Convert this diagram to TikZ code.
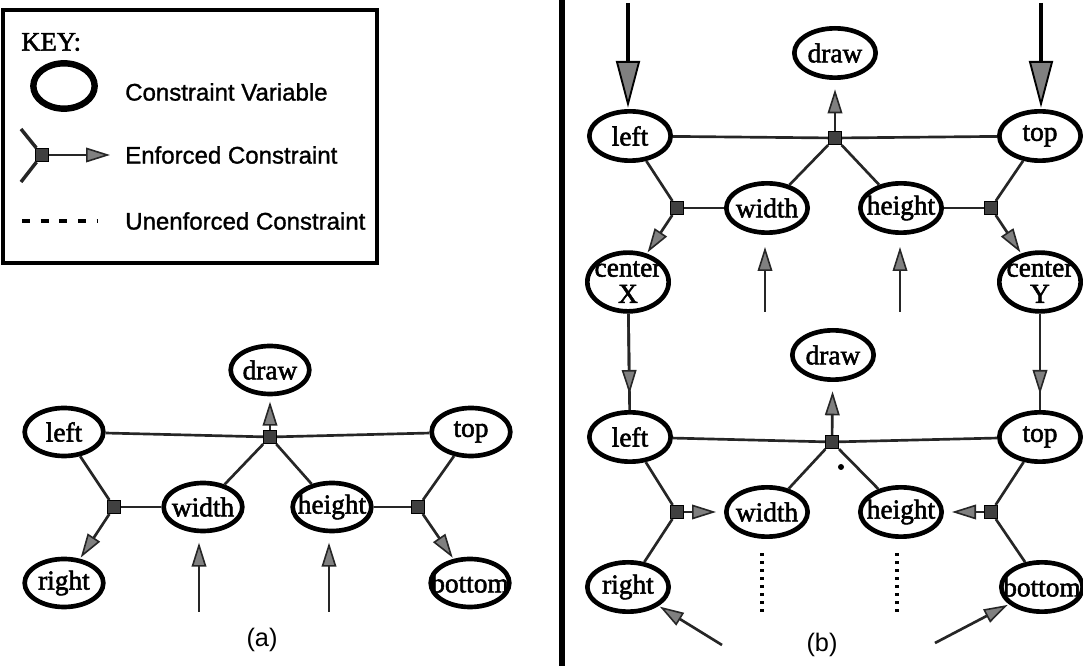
\documentclass[tikz,border=0pt]{standalone}
\usepackage{fontspec}
\setmainfont{Liberation Serif}
\setsansfont{Liberation Sans}
\newfontfamily\nodefont{Liberation Serif}[FakeBold=2]
\newfontfamily\keyfont{Liberation Sans}[FakeBold=1.2]
\usetikzlibrary{shapes.geometric,arrows.meta}
\newcommand\vlab[1]{\makebox[0pt]{#1}}
\tikzset{
 var/.style={draw, ellipse, line width=3.5pt, minimum width=59pt, minimum height=36pt, inner sep=0pt, font=\nodefont\fontsize{20.5}{22}\selectfont},
 bvar/.style={var, minimum width=61pt, minimum height=37pt},
 junc/.style={draw=black, fill=gray!50!black, minimum size=10pt, inner sep=0pt, line width=0.6pt},
 link/.style={line width=2pt, draw=black!85},
 enf/.style={link, -{Triangle[length=18pt,width=11pt,fill=black!50,line width=1.2pt]}},
 bigarr/.style={line width=3.2pt, -{Triangle[length=35pt,width=18pt,fill=black!50,line width=1.4pt]}},
 unenf/.style={line width=2.4pt, dash pattern=on 2pt off 4pt},
 keytext/.style={anchor=west, inner sep=0pt, font=\keyfont\fontsize{18}{20}\selectfont},
 caplab/.style={inner sep=0pt, font=\sffamily\fontsize{19}{20}\selectfont}
}
\begin{document}
\begin{tikzpicture}[x=0.75pt,y=-0.75pt]
\useasboundingbox (0,0) rectangle (1083,666);
% ---------------- key ----------------
\draw[line width=3.2pt] (3,10) rectangle (377,263);
\node[anchor=west, inner sep=0pt, font=\nodefont\fontsize{20}{22}\selectfont] (key) at (21,42) {KEY:};
\node[draw, ellipse, line width=4.8pt, minimum width=46pt, minimum height=34pt, inner sep=0pt] (kvar) at (64,86) {};
\node[keytext] (kvart) at (125,92) {Constraint Variable};
\node[junc] (kj) at (42,155) {};
\coordinate (ky1) at (21,129);
\coordinate (ky2) at (21,182);
\coordinate (kend) at (110,155);
\draw[link, line width=2.6pt] (ky1) -- (kj);
\draw[link, line width=2.6pt] (ky2) -- (kj);
\draw[enf] (kj) -- (kend);
\node[keytext] (kenft) at (125,155) {Enforced Constraint};
\coordinate (kd1) at (22,221);
\coordinate (kd2) at (97,221);
\draw[line width=3pt, dash pattern=on 6pt off 8pt] (kd1) -- (kd2);
\node[keytext] (kunt) at (125,221) {Unenforced Constraint};
% ---------------- panel (a) ----------------
\node[var] (adraw) at (270,370) {\vlab{draw}};
\node[var] (aleft) at (64,432) {\vlab{left}};
\node[var] (atop) at (471,432) {\vlab{top}};
\node[var] (awidth) at (203,507) {\vlab{width}};
\node[var] (aheight) at (332,507) {\vlab{height}};
\node[var] (aright) at (64,583) {\vlab{right}};
\node[var] (abottom) at (470,583) {\vlab{bottom}};
\node[junc] (aj) at (270,437) {};
\node[junc] (ajl) at (114,507) {};
\node[junc] (ajr) at (418,507) {};
\coordinate (awi) at (199,612);
\coordinate (ahi) at (329,612);
\draw[link] (aleft) -- (aj);
\draw[link] (aj) -- (atop);
\draw[link] (awidth) -- (aj);
\draw[link] (aheight) -- (aj);
\draw[enf, shorten >=4pt] (aj) -- (adraw);
\draw[link] (aleft) -- (ajl);
\draw[link] (awidth) -- (ajl);
\draw[enf, shorten >=1pt] (ajl) -- (aright);
\draw[link] (atop) -- (ajr);
\draw[link] (aheight) -- (ajr);
\draw[enf, shorten >=1pt] (ajr) -- (abottom);
\draw[enf, shorten >=7pt] (awi) -- (awi |- awidth.south);
\draw[enf, shorten >=7pt] (ahi) -- (ahi |- aheight.south);
\node[caplab] (acap) at (262,640) {(a)};
% ---------------- divider ----------------
\coordinate (dv1) at (562,0);
\coordinate (dv2) at (562,666);
\draw[line width=4.5pt] (dv1) -- (dv2);
% ---------------- panel (b), upper ----------------
\node[bvar] (bdraw) at (835,53) {\vlab{draw}};
\node[bvar] (bleft) at (630,136) {\vlab{left}};
\node[bvar] (btop) at (1040,136) {\vlab{top}};
\node[bvar] (bwidth) at (767,208) {\vlab{width}};
\node[bvar] (bheight) at (901,208) {\vlab{height}};
\node[bvar] (bcx) at (628,282) {\vlab{\shortstack{center\\[3pt]X}}};
\node[bvar] (bcy) at (1040,282) {\vlab{\shortstack{center\\[3pt]Y}}};
\node[junc] (bj) at (835,138) {};
\node[junc] (bjl) at (677,208) {};
\node[junc] (bjr) at (991,208) {};
\coordinate (bli) at (628,3);
\coordinate (bti) at (1041,3);
\coordinate (bwi) at (765,312);
\coordinate (bhi) at (900,312);
\draw[bigarr, shorten >=1pt] (bli) -- (bli |- bleft.north);
\draw[bigarr, shorten >=1pt] (bti) -- (bti |- btop.north);
\draw[link] (bleft) -- (bj);
\draw[link] (bj) -- (btop);
\draw[link] (bwidth) -- (bj);
\draw[link] (bheight) -- (bj);
\draw[enf, shorten >=7pt] (bj) -- (bdraw);
\draw[link] (bleft) -- (bjl);
\draw[link] (bwidth) -- (bjl);
\draw[enf, shorten >=1pt] (bjl) -- (bcx);
\draw[link] (btop) -- (bjr);
\draw[link] (bheight) -- (bjr);
\draw[enf, shorten >=1pt] (bjr) -- (bcy);
\draw[enf, shorten >=9pt] (bwi) -- (bwi |- bwidth.south);
\draw[enf, shorten >=9pt] (bhi) -- (bhi |- bheight.south);
% ---------------- panel (b), lower ----------------
\node[bvar] (cdraw) at (833,355) {\vlab{draw}};
\node[bvar] (cleft) at (630,437) {\vlab{left}};
\node[bvar] (ctop) at (1040,437) {\vlab{top}};
\node[bvar] (cwidth) at (767,512) {\vlab{width}};
\node[bvar] (cheight) at (901,512) {\vlab{height}};
\node[bvar] (cright) at (628,587) {\vlab{right}};
\node[bvar] (cbottom) at (1042,587) {\vlab{bottom}};
\node[junc] (cj) at (832,442) {};
\node[junc] (cjl) at (677,512) {};
\node[junc] (cjr) at (991,512) {};
\draw[link] (bcx) -- (cleft);
\draw[enf, shorten >=12pt] (bcx) -- (cleft);
\draw[link] (bcy) -- (ctop);
\draw[enf, shorten >=12pt] (bcy) -- (ctop);
\draw[link] (cleft) -- (cj);
\draw[link] (cj) -- (ctop);
\draw[link] (cwidth) -- (cj);
\draw[link] (cheight) -- (cj);
\draw[enf, shorten >=7pt] (cj) -- (cdraw);
\draw[link] (cleft) -- (cjl);
\draw[link] (cjl) -- (cright);
\draw[enf, shorten >=6pt] (cjl) -- (cwidth);
\draw[link] (ctop) -- (cjr);
\draw[link] (cjr) -- (cbottom);
\draw[enf, shorten >=6pt] (cjr) -- (cheight);
\coordinate (cwd) at (762,612);
\coordinate (chd) at (897,612);
\draw[unenf, shorten >=9pt] (cwd) -- (cwd |- cwidth.south);
\draw[unenf, shorten >=9pt] (chd) -- (chd |- cheight.south);
\coordinate (cri) at (722,645);
\coordinate (cbi) at (935,643);
\draw[enf, shorten >=1pt] (cri) -- (cright);
\draw[enf, shorten >=1pt] (cbi) -- (cbottom);
\node[circle, fill=black, inner sep=0pt, minimum size=4.5pt] (dot) at (841,467) {};
\node[caplab] (bcap) at (822,645) {(b)};
\end{tikzpicture}
\end{document}
